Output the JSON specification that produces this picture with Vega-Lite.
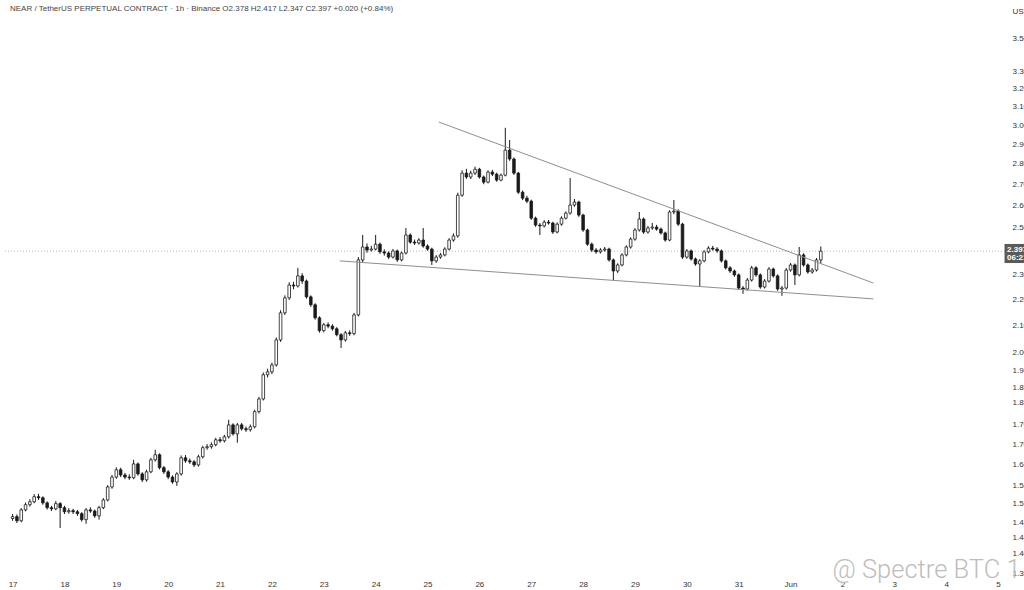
{
"$schema":"https://vega.github.io/schema/vega-lite/v6.json",
"width":1003,"height":575,"autosize":"none",
"padding":{"left":5,"top":0,"right":16,"bottom":15},
"background":"#ffffff",
"view":{"stroke":null},
"title":{"text":"NEAR / TetherUS PERPETUAL CONTRACT · 1h · Binance   O2.378  H2.417  L2.347  C2.397  +0.020 (+0.84%)","anchor":"start","frame":"group","offset":-13,"dx":5,"fontSize":8,"fontWeight":"normal","color":"#444444","font":"Liberation Sans"},
"datasets":{
"candles":[
{"t":"2025-05-17T00:00","o":1.490,"h":1.502,"l":1.484,"c":1.495},
{"t":"2025-05-17T02:00","o":1.495,"h":1.501,"l":1.478,"c":1.484},
{"t":"2025-05-17T04:00","o":1.484,"h":1.518,"l":1.480,"c":1.513},
{"t":"2025-05-17T06:00","o":1.513,"h":1.533,"l":1.509,"c":1.527},
{"t":"2025-05-17T08:00","o":1.527,"h":1.542,"l":1.522,"c":1.535},
{"t":"2025-05-17T10:00","o":1.535,"h":1.556,"l":1.531,"c":1.549},
{"t":"2025-05-17T12:00","o":1.549,"h":1.557,"l":1.540,"c":1.546},
{"t":"2025-05-17T14:00","o":1.546,"h":1.550,"l":1.527,"c":1.532},
{"t":"2025-05-17T16:00","o":1.532,"h":1.536,"l":1.514,"c":1.519},
{"t":"2025-05-17T18:00","o":1.519,"h":1.524,"l":1.510,"c":1.516},
{"t":"2025-05-17T20:00","o":1.516,"h":1.537,"l":1.512,"c":1.530},
{"t":"2025-05-17T22:00","o":1.530,"h":1.534,"l":1.465,"c":1.519},
{"t":"2025-05-18T00:00","o":1.519,"h":1.524,"l":1.502,"c":1.508},
{"t":"2025-05-18T02:00","o":1.508,"h":1.518,"l":1.503,"c":1.511},
{"t":"2025-05-18T04:00","o":1.511,"h":1.516,"l":1.502,"c":1.508},
{"t":"2025-05-18T06:00","o":1.508,"h":1.513,"l":1.497,"c":1.503},
{"t":"2025-05-18T08:00","o":1.503,"h":1.507,"l":1.482,"c":1.487},
{"t":"2025-05-18T10:00","o":1.487,"h":1.518,"l":1.476,"c":1.513},
{"t":"2025-05-18T12:00","o":1.513,"h":1.520,"l":1.505,"c":1.510},
{"t":"2025-05-18T14:00","o":1.510,"h":1.514,"l":1.492,"c":1.497},
{"t":"2025-05-18T16:00","o":1.497,"h":1.524,"l":1.487,"c":1.519},
{"t":"2025-05-18T18:00","o":1.519,"h":1.545,"l":1.515,"c":1.540},
{"t":"2025-05-18T20:00","o":1.540,"h":1.581,"l":1.536,"c":1.576},
{"t":"2025-05-18T22:00","o":1.576,"h":1.610,"l":1.571,"c":1.604},
{"t":"2025-05-19T00:00","o":1.604,"h":1.632,"l":1.599,"c":1.625},
{"t":"2025-05-19T02:00","o":1.625,"h":1.631,"l":1.604,"c":1.610},
{"t":"2025-05-19T04:00","o":1.610,"h":1.616,"l":1.598,"c":1.604},
{"t":"2025-05-19T06:00","o":1.604,"h":1.612,"l":1.596,"c":1.602},
{"t":"2025-05-19T08:00","o":1.602,"h":1.654,"l":1.598,"c":1.642},
{"t":"2025-05-19T10:00","o":1.642,"h":1.646,"l":1.608,"c":1.613},
{"t":"2025-05-19T12:00","o":1.613,"h":1.618,"l":1.590,"c":1.596},
{"t":"2025-05-19T14:00","o":1.596,"h":1.625,"l":1.591,"c":1.619},
{"t":"2025-05-19T16:00","o":1.619,"h":1.660,"l":1.615,"c":1.654},
{"t":"2025-05-19T18:00","o":1.654,"h":1.684,"l":1.649,"c":1.669},
{"t":"2025-05-19T20:00","o":1.669,"h":1.673,"l":1.626,"c":1.631},
{"t":"2025-05-19T22:00","o":1.631,"h":1.636,"l":1.613,"c":1.619},
{"t":"2025-05-20T00:00","o":1.619,"h":1.624,"l":1.598,"c":1.604},
{"t":"2025-05-20T02:00","o":1.604,"h":1.609,"l":1.585,"c":1.590},
{"t":"2025-05-20T04:00","o":1.590,"h":1.618,"l":1.579,"c":1.613},
{"t":"2025-05-20T06:00","o":1.613,"h":1.667,"l":1.608,"c":1.660},
{"t":"2025-05-20T08:00","o":1.660,"h":1.668,"l":1.645,"c":1.651},
{"t":"2025-05-20T10:00","o":1.651,"h":1.658,"l":1.642,"c":1.648},
{"t":"2025-05-20T12:00","o":1.648,"h":1.653,"l":1.633,"c":1.639},
{"t":"2025-05-20T14:00","o":1.639,"h":1.669,"l":1.634,"c":1.663},
{"t":"2025-05-20T16:00","o":1.663,"h":1.696,"l":1.658,"c":1.690},
{"t":"2025-05-20T18:00","o":1.690,"h":1.701,"l":1.684,"c":1.693},
{"t":"2025-05-20T20:00","o":1.693,"h":1.706,"l":1.687,"c":1.699},
{"t":"2025-05-20T22:00","o":1.699,"h":1.720,"l":1.694,"c":1.714},
{"t":"2025-05-21T00:00","o":1.714,"h":1.722,"l":1.705,"c":1.711},
{"t":"2025-05-21T02:00","o":1.711,"h":1.729,"l":1.706,"c":1.723},
{"t":"2025-05-21T04:00","o":1.723,"h":1.776,"l":1.718,"c":1.760},
{"t":"2025-05-21T06:00","o":1.760,"h":1.765,"l":1.727,"c":1.732},
{"t":"2025-05-21T08:00","o":1.732,"h":1.766,"l":1.705,"c":1.760},
{"t":"2025-05-21T10:00","o":1.760,"h":1.766,"l":1.742,"c":1.748},
{"t":"2025-05-21T12:00","o":1.748,"h":1.755,"l":1.738,"c":1.745},
{"t":"2025-05-21T14:00","o":1.745,"h":1.761,"l":1.739,"c":1.754},
{"t":"2025-05-21T16:00","o":1.754,"h":1.808,"l":1.749,"c":1.802},
{"t":"2025-05-21T18:00","o":1.802,"h":1.850,"l":1.796,"c":1.843},
{"t":"2025-05-21T20:00","o":1.843,"h":1.932,"l":1.838,"c":1.924},
{"t":"2025-05-21T22:00","o":1.924,"h":1.945,"l":1.915,"c":1.934},
{"t":"2025-05-22T00:00","o":1.934,"h":1.966,"l":1.926,"c":1.958},
{"t":"2025-05-22T02:00","o":1.958,"h":2.056,"l":1.952,"c":2.047},
{"t":"2025-05-22T04:00","o":2.047,"h":2.158,"l":2.040,"c":2.148},
{"t":"2025-05-22T06:00","o":2.148,"h":2.216,"l":2.140,"c":2.206},
{"t":"2025-05-22T08:00","o":2.206,"h":2.268,"l":2.198,"c":2.257},
{"t":"2025-05-22T10:00","o":2.257,"h":2.270,"l":2.240,"c":2.253},
{"t":"2025-05-22T12:00","o":2.253,"h":2.327,"l":2.247,"c":2.294},
{"t":"2025-05-22T14:00","o":2.294,"h":2.305,"l":2.262,"c":2.273},
{"t":"2025-05-22T16:00","o":2.273,"h":2.279,"l":2.203,"c":2.210},
{"t":"2025-05-22T18:00","o":2.210,"h":2.216,"l":2.171,"c":2.179},
{"t":"2025-05-22T20:00","o":2.179,"h":2.185,"l":2.122,"c":2.129},
{"t":"2025-05-22T22:00","o":2.129,"h":2.135,"l":2.074,"c":2.081},
{"t":"2025-05-23T00:00","o":2.081,"h":2.110,"l":2.075,"c":2.103},
{"t":"2025-05-23T02:00","o":2.103,"h":2.112,"l":2.090,"c":2.098},
{"t":"2025-05-23T04:00","o":2.098,"h":2.105,"l":2.081,"c":2.088},
{"t":"2025-05-23T06:00","o":2.088,"h":2.094,"l":2.060,"c":2.066},
{"t":"2025-05-23T08:00","o":2.066,"h":2.072,"l":2.018,"c":2.047},
{"t":"2025-05-23T10:00","o":2.047,"h":2.080,"l":2.041,"c":2.073},
{"t":"2025-05-23T12:00","o":2.073,"h":2.082,"l":2.062,"c":2.070},
{"t":"2025-05-23T14:00","o":2.070,"h":2.148,"l":2.064,"c":2.140},
{"t":"2025-05-23T16:00","o":2.140,"h":2.372,"l":2.134,"c":2.360},
{"t":"2025-05-23T18:00","o":2.360,"h":2.467,"l":2.350,"c":2.415},
{"t":"2025-05-23T20:00","o":2.415,"h":2.430,"l":2.390,"c":2.402},
{"t":"2025-05-23T22:00","o":2.402,"h":2.420,"l":2.394,"c":2.406},
{"t":"2025-05-24T00:00","o":2.406,"h":2.467,"l":2.400,"c":2.427},
{"t":"2025-05-24T02:00","o":2.427,"h":2.434,"l":2.386,"c":2.394},
{"t":"2025-05-24T04:00","o":2.394,"h":2.405,"l":2.378,"c":2.389},
{"t":"2025-05-24T06:00","o":2.389,"h":2.396,"l":2.364,"c":2.372},
{"t":"2025-05-24T08:00","o":2.372,"h":2.406,"l":2.366,"c":2.398},
{"t":"2025-05-24T10:00","o":2.398,"h":2.404,"l":2.352,"c":2.360},
{"t":"2025-05-24T12:00","o":2.360,"h":2.397,"l":2.354,"c":2.389},
{"t":"2025-05-24T14:00","o":2.389,"h":2.498,"l":2.383,"c":2.467},
{"t":"2025-05-24T16:00","o":2.467,"h":2.474,"l":2.429,"c":2.436},
{"t":"2025-05-24T18:00","o":2.436,"h":2.447,"l":2.424,"c":2.432},
{"t":"2025-05-24T20:00","o":2.432,"h":2.453,"l":2.425,"c":2.445},
{"t":"2025-05-24T22:00","o":2.445,"h":2.498,"l":2.412,"c":2.419},
{"t":"2025-05-25T00:00","o":2.419,"h":2.426,"l":2.399,"c":2.406},
{"t":"2025-05-25T02:00","o":2.406,"h":2.412,"l":2.339,"c":2.356},
{"t":"2025-05-25T04:00","o":2.356,"h":2.380,"l":2.348,"c":2.372},
{"t":"2025-05-25T06:00","o":2.372,"h":2.389,"l":2.365,"c":2.381},
{"t":"2025-05-25T08:00","o":2.381,"h":2.414,"l":2.375,"c":2.406},
{"t":"2025-05-25T10:00","o":2.406,"h":2.453,"l":2.400,"c":2.445},
{"t":"2025-05-25T12:00","o":2.445,"h":2.474,"l":2.438,"c":2.463},
{"t":"2025-05-25T14:00","o":2.463,"h":2.660,"l":2.455,"c":2.648},
{"t":"2025-05-25T16:00","o":2.648,"h":2.768,"l":2.640,"c":2.754},
{"t":"2025-05-25T18:00","o":2.754,"h":2.775,"l":2.726,"c":2.735},
{"t":"2025-05-25T20:00","o":2.735,"h":2.766,"l":2.725,"c":2.754},
{"t":"2025-05-25T22:00","o":2.754,"h":2.786,"l":2.745,"c":2.773},
{"t":"2025-05-26T00:00","o":2.773,"h":2.780,"l":2.727,"c":2.735},
{"t":"2025-05-26T02:00","o":2.735,"h":2.742,"l":2.700,"c":2.710},
{"t":"2025-05-26T04:00","o":2.710,"h":2.768,"l":2.704,"c":2.759},
{"t":"2025-05-26T06:00","o":2.759,"h":2.770,"l":2.740,"c":2.749},
{"t":"2025-05-26T08:00","o":2.749,"h":2.756,"l":2.712,"c":2.720},
{"t":"2025-05-26T10:00","o":2.720,"h":2.752,"l":2.714,"c":2.744},
{"t":"2025-05-26T12:00","o":2.744,"h":2.985,"l":2.738,"c":2.869},
{"t":"2025-05-26T14:00","o":2.869,"h":2.921,"l":2.815,"c":2.824},
{"t":"2025-05-26T16:00","o":2.824,"h":2.832,"l":2.745,"c":2.754},
{"t":"2025-05-26T18:00","o":2.754,"h":2.760,"l":2.654,"c":2.662},
{"t":"2025-05-26T20:00","o":2.662,"h":2.670,"l":2.625,"c":2.634},
{"t":"2025-05-26T22:00","o":2.634,"h":2.645,"l":2.611,"c":2.620},
{"t":"2025-05-27T00:00","o":2.620,"h":2.627,"l":2.534,"c":2.542},
{"t":"2025-05-27T02:00","o":2.542,"h":2.549,"l":2.503,"c":2.511},
{"t":"2025-05-27T04:00","o":2.511,"h":2.520,"l":2.467,"c":2.507},
{"t":"2025-05-27T06:00","o":2.507,"h":2.533,"l":2.500,"c":2.524},
{"t":"2025-05-27T08:00","o":2.524,"h":2.534,"l":2.513,"c":2.520},
{"t":"2025-05-27T10:00","o":2.520,"h":2.526,"l":2.472,"c":2.480},
{"t":"2025-05-27T12:00","o":2.480,"h":2.523,"l":2.474,"c":2.515},
{"t":"2025-05-27T14:00","o":2.515,"h":2.550,"l":2.508,"c":2.542},
{"t":"2025-05-27T16:00","o":2.542,"h":2.573,"l":2.536,"c":2.565},
{"t":"2025-05-27T18:00","o":2.565,"h":2.730,"l":2.558,"c":2.602},
{"t":"2025-05-27T20:00","o":2.602,"h":2.630,"l":2.594,"c":2.616},
{"t":"2025-05-27T22:00","o":2.616,"h":2.622,"l":2.548,"c":2.556},
{"t":"2025-05-28T00:00","o":2.556,"h":2.562,"l":2.481,"c":2.489},
{"t":"2025-05-28T02:00","o":2.489,"h":2.495,"l":2.420,"c":2.427},
{"t":"2025-05-28T04:00","o":2.427,"h":2.434,"l":2.394,"c":2.402},
{"t":"2025-05-28T06:00","o":2.402,"h":2.410,"l":2.386,"c":2.394},
{"t":"2025-05-28T08:00","o":2.394,"h":2.410,"l":2.387,"c":2.402},
{"t":"2025-05-28T10:00","o":2.402,"h":2.415,"l":2.395,"c":2.406},
{"t":"2025-05-28T12:00","o":2.406,"h":2.412,"l":2.353,"c":2.360},
{"t":"2025-05-28T14:00","o":2.360,"h":2.366,"l":2.277,"c":2.314},
{"t":"2025-05-28T16:00","o":2.314,"h":2.346,"l":2.306,"c":2.339},
{"t":"2025-05-28T18:00","o":2.339,"h":2.388,"l":2.333,"c":2.381},
{"t":"2025-05-28T20:00","o":2.381,"h":2.422,"l":2.375,"c":2.415},
{"t":"2025-05-28T22:00","o":2.415,"h":2.457,"l":2.408,"c":2.449},
{"t":"2025-05-29T00:00","o":2.449,"h":2.497,"l":2.442,"c":2.489},
{"t":"2025-05-29T02:00","o":2.489,"h":2.570,"l":2.482,"c":2.538},
{"t":"2025-05-29T04:00","o":2.538,"h":2.545,"l":2.472,"c":2.480},
{"t":"2025-05-29T06:00","o":2.480,"h":2.507,"l":2.473,"c":2.498},
{"t":"2025-05-29T08:00","o":2.498,"h":2.520,"l":2.490,"c":2.502},
{"t":"2025-05-29T10:00","o":2.502,"h":2.512,"l":2.486,"c":2.493},
{"t":"2025-05-29T12:00","o":2.493,"h":2.500,"l":2.469,"c":2.476},
{"t":"2025-05-29T14:00","o":2.476,"h":2.482,"l":2.438,"c":2.445},
{"t":"2025-05-29T16:00","o":2.445,"h":2.578,"l":2.440,"c":2.570},
{"t":"2025-05-29T18:00","o":2.570,"h":2.625,"l":2.560,"c":2.574},
{"t":"2025-05-29T20:00","o":2.574,"h":2.582,"l":2.507,"c":2.515},
{"t":"2025-05-29T22:00","o":2.515,"h":2.521,"l":2.364,"c":2.372},
{"t":"2025-05-30T00:00","o":2.372,"h":2.406,"l":2.365,"c":2.398},
{"t":"2025-05-30T02:00","o":2.398,"h":2.404,"l":2.357,"c":2.364},
{"t":"2025-05-30T04:00","o":2.364,"h":2.370,"l":2.336,"c":2.343},
{"t":"2025-05-30T06:00","o":2.343,"h":2.364,"l":2.249,"c":2.356},
{"t":"2025-05-30T08:00","o":2.356,"h":2.402,"l":2.350,"c":2.394},
{"t":"2025-05-30T10:00","o":2.394,"h":2.418,"l":2.388,"c":2.410},
{"t":"2025-05-30T12:00","o":2.410,"h":2.420,"l":2.399,"c":2.406},
{"t":"2025-05-30T14:00","o":2.406,"h":2.414,"l":2.390,"c":2.398},
{"t":"2025-05-30T16:00","o":2.398,"h":2.404,"l":2.349,"c":2.356},
{"t":"2025-05-30T18:00","o":2.356,"h":2.362,"l":2.320,"c":2.327},
{"t":"2025-05-30T20:00","o":2.327,"h":2.334,"l":2.306,"c":2.314},
{"t":"2025-05-30T22:00","o":2.314,"h":2.320,"l":2.290,"c":2.298},
{"t":"2025-05-31T00:00","o":2.298,"h":2.304,"l":2.238,"c":2.245},
{"t":"2025-05-31T02:00","o":2.245,"h":2.253,"l":2.222,"c":2.241},
{"t":"2025-05-31T04:00","o":2.241,"h":2.285,"l":2.235,"c":2.277},
{"t":"2025-05-31T06:00","o":2.277,"h":2.335,"l":2.271,"c":2.327},
{"t":"2025-05-31T08:00","o":2.327,"h":2.334,"l":2.291,"c":2.298},
{"t":"2025-05-31T10:00","o":2.298,"h":2.304,"l":2.242,"c":2.249},
{"t":"2025-05-31T12:00","o":2.249,"h":2.281,"l":2.243,"c":2.273},
{"t":"2025-05-31T14:00","o":2.273,"h":2.330,"l":2.267,"c":2.322},
{"t":"2025-05-31T16:00","o":2.322,"h":2.328,"l":2.287,"c":2.294},
{"t":"2025-05-31T18:00","o":2.294,"h":2.300,"l":2.234,"c":2.241},
{"t":"2025-05-31T20:00","o":2.241,"h":2.253,"l":2.214,"c":2.245},
{"t":"2025-05-31T22:00","o":2.245,"h":2.326,"l":2.239,"c":2.318},
{"t":"2025-06-01T00:00","o":2.318,"h":2.347,"l":2.311,"c":2.339},
{"t":"2025-06-01T02:00","o":2.339,"h":2.345,"l":2.257,"c":2.298},
{"t":"2025-06-01T04:00","o":2.298,"h":2.415,"l":2.292,"c":2.381},
{"t":"2025-06-01T06:00","o":2.381,"h":2.388,"l":2.332,"c":2.339},
{"t":"2025-06-01T08:00","o":2.339,"h":2.345,"l":2.303,"c":2.310},
{"t":"2025-06-01T10:00","o":2.310,"h":2.326,"l":2.303,"c":2.318},
{"t":"2025-06-01T12:00","o":2.318,"h":2.368,"l":2.312,"c":2.360},
{"t":"2025-06-01T14:00","o":2.360,"h":2.417,"l":2.347,"c":2.397}
],
"lines":[
{"t1":"2025-05-25T05:12","p1":3.016,"t2":"2025-06-02T14:18","p2":2.265},
{"t1":"2025-05-23T07:24","p1":2.356,"t2":"2025-06-02T14:18","p2":2.202}
],
"last":[{"t":"2025-05-20T00:00","p":2.397}],
"tag":[{"t0":"2025-06-05T03:00","t1":"2025-06-05T14:00","p0":2.428,"p1":2.347}],
"tagtext":[{"t":"2025-06-05T04:10","p":2.404,"label":"2.397"},{"t":"2025-06-05T04:10","p":2.368,"label":"06:21"}],
"mark":[{"t":"2025-06-01T19:24","p":1.341,"label":"@ Spectre BTC 1"}]
},
"layer":[
{"data":{"name":"candles"},"mark":{"type":"rule","color":"#1a1a1a","strokeWidth":1},
 "encoding":{
  "x":{"field":"t","type":"temporal","scale":{"domain":[{"year":2025,"month":5,"date":16,"hours":22,"minutes":48},{"year":2025,"month":6,"date":5,"hours":2,"minutes":18}]},
   "axis":{"title":null,"domain":false,"ticks":false,"grid":false,"labelFontSize":8,"labelColor":"#333333","labelFont":"Liberation Sans","labelPadding":5,"labelFlush":false,"labelOverlap":false,"tickCount":{"interval":"day","step":1},"labelExpr":"date(datum.value) == 1 ? 'Jun' : timeFormat(datum.value, '%-d')"}},
  "y":{"field":"l","type":"quantitative","scale":{"type":"log","domain":[1.3476,3.7469],"nice":false,"zero":false},
   "axis":{"orient":"right","title":"USDT","titleAngle":0,"titleAlign":"left","titleBaseline":"alphabetic","titleX":4,"titleY":13,"titleFontSize":8,"titleFontWeight":"normal","titleColor":"#333333","titleFont":"Liberation Sans","domain":false,"ticks":false,"grid":false,"labelFontSize":8,"labelColor":"#333333","labelFont":"Liberation Sans","labelPadding":4,"labelAlign":"left","labelOverlap":false,"format":".3f","values":[3.5,3.3,3.2,3.1,3.0,2.9,2.8,2.7,2.6,2.5,2.3,2.2,2.1,2.0,1.94,1.88,1.83,1.76,1.7,1.64,1.58,1.53,1.48,1.44,1.4,1.35]}},
  "y2":{"field":"h"}}},
{"data":{"name":"last"},"mark":{"type":"rule","color":"#b5b5b5","strokeWidth":1,"strokeDash":[1,2]},
 "encoding":{"y":{"field":"p","type":"quantitative"}}},
{"data":{"name":"candles"},"mark":{"type":"bar","size":2.6,"stroke":"#1a1a1a","strokeWidth":0.8},
 "encoding":{
  "x":{"field":"t","type":"temporal"},
  "y":{"field":"o","type":"quantitative"},
  "y2":{"field":"c"},
  "fill":{"condition":{"test":"datum.c >= datum.o","value":"#ffffff"},"value":"#1a1a1a"}}},
{"data":{"name":"lines"},"mark":{"type":"rule","color":"#8f8f8f","strokeWidth":1},
 "encoding":{
  "x":{"field":"t1","type":"temporal"},"x2":{"field":"t2"},
  "y":{"field":"p1","type":"quantitative"},"y2":{"field":"p2"}}},
{"data":{"name":"tag"},"mark":{"type":"rect","color":"#5a5a5a"},
 "encoding":{
  "x":{"field":"t0","type":"temporal"},"x2":{"field":"t1"},
  "y":{"field":"p0","type":"quantitative"},"y2":{"field":"p1"}}},
{"data":{"name":"tagtext"},"mark":{"type":"text","align":"left","baseline":"middle","color":"#ffffff","fontSize":8,"fontWeight":"bold","font":"Liberation Sans"},
 "encoding":{
  "x":{"field":"t","type":"temporal"},
  "y":{"field":"p","type":"quantitative"},
  "text":{"field":"label"}}},
{"data":{"name":"mark"},"mark":{"type":"text","align":"left","baseline":"alphabetic","color":"#bdbdbd","fontSize":25.5,"fontWeight":300,"font":"Roboto"},
 "encoding":{
  "x":{"field":"t","type":"temporal"},
  "y":{"field":"p","type":"quantitative"},
  "text":{"field":"label"}}}
]
}
